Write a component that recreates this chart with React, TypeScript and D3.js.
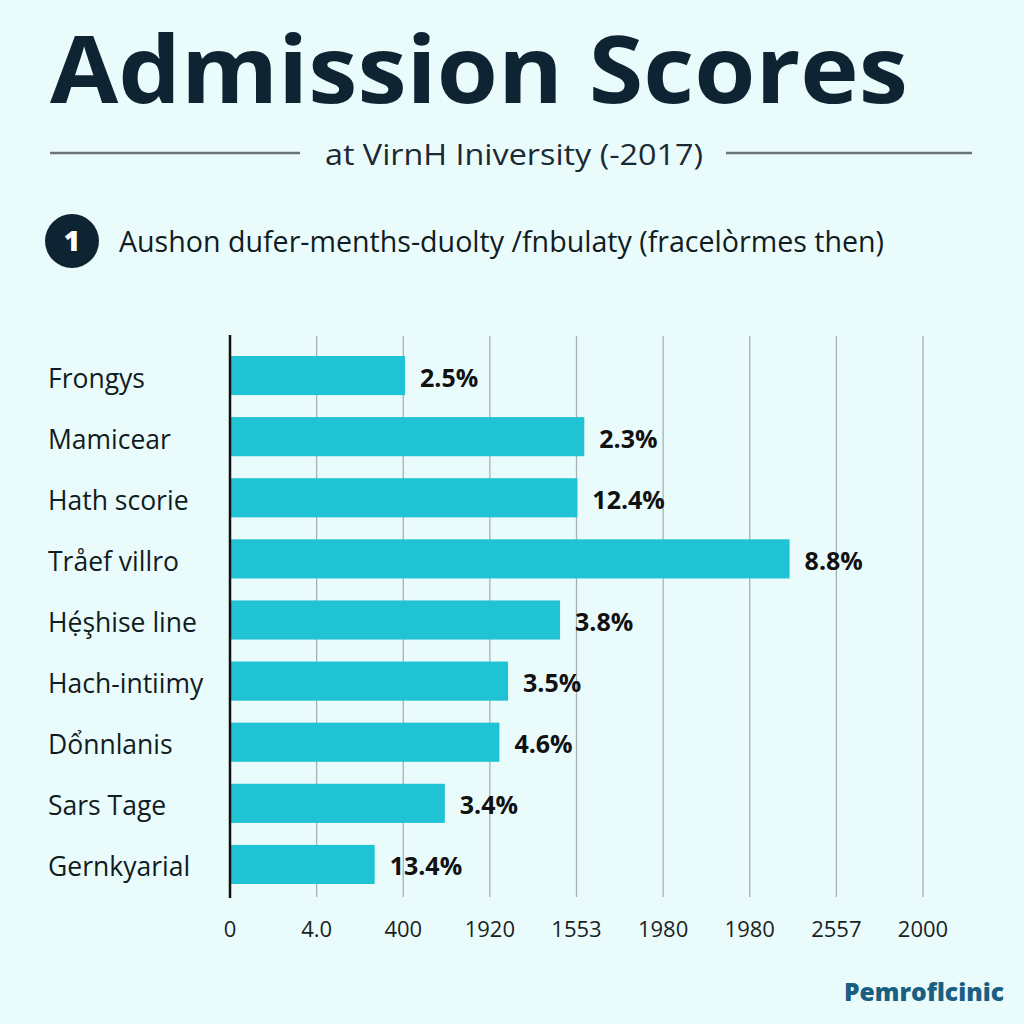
import React from "react";
import * as d3 from "d3";

const categories = [
  "Frongys",
  "Mamicear",
  "Hath scorie",
  "Tråef villro",
  "Hẹ́şhise line",
  "Hach-intiimy",
  "Dổnnlanis",
  "Sars Tage",
  "Gernkyarial",
];
const values = [2.02, 4.09, 4.01, 6.46, 3.81, 3.21, 3.11, 2.48, 1.67];
const valueLabels = ["2.5%", "2.3%", "12.4%", "8.8%", "3.8%", "3.5%", "4.6%", "3.4%", "13.4%"];
const tickValues = [0, 1, 2, 3, 4, 5, 6, 7, 8];
const tickLabels = ["0", "4.0", "400", "1920", "1553", "1980", "1980", "2557", "2000"];

const W = 1024;
const H = 1024;
const BG = "#eafbfb";
const BAR = "#1fc3d4";
const NAVY = "#0f2433";
const FONT = "'Open Sans', 'Noto Sans', sans-serif";

export default function App() {
  const x = d3.scaleLinear().domain([0, 8]).range([230, 923]);
  const y = d3
    .scaleBand<string>()
    .domain(categories)
    .range([345, 895])
    .paddingInner(0.36)
    .paddingOuter(0.18);

  return (
    <svg
      width={W}
      height={H}
      viewBox={`0 0 ${W} ${H}`}
      style={{ position: "absolute", left: 0, top: 0, display: "block" }}
    >
      <rect x={0} y={0} width={W} height={H} fill={BG} />

      {/* Title */}
      <text
        x={50}
        y={103}
        fontFamily={FONT}
        fontWeight={700}
        fontSize={94}
        fill={NAVY}
        textLength={858}
        lengthAdjust="spacingAndGlyphs"
      >
        Admission Scores
      </text>

      {/* Subtitle with rules */}
      <line x1={50} x2={300} y1={153} y2={153} stroke="#6b7478" strokeWidth={2.5} />
      <line x1={726} x2={972} y1={153} y2={153} stroke="#6b7478" strokeWidth={2.5} />
      <text
        x={325}
        y={165}
        fontFamily={FONT}
        fontWeight={400}
        fontSize={29}
        fill="#1a2a35"
        textLength={378}
        lengthAdjust="spacingAndGlyphs"
      >
        at VirnH Iniversity (-2017)
      </text>

      {/* Numbered note */}
      <circle cx={72} cy={241} r={27} fill={NAVY} />
      <text
        x={72}
        y={251}
        textAnchor="middle"
        fontFamily={FONT}
        fontWeight={800}
        fontSize={28}
        fill="#ffffff"
      >
        1
      </text>
      <text
        x={119}
        y={252}
        fontFamily={FONT}
        fontWeight={400}
        fontSize={29}
        fill="#111c22"
        textLength={765}
        lengthAdjust="spacingAndGlyphs"
      >
        Aushon dufer-menths-duolty /fnbulaty (fracelòrmes then)
      </text>

      {/* Gridlines */}
      {tickValues.slice(1).map((t) => (
        <line
          key={"g" + t}
          x1={x(t)}
          x2={x(t)}
          y1={336}
          y2={897}
          stroke="#a9b0b3"
          strokeWidth={1.3}
        />
      ))}

      {/* Bars */}
      {categories.map((c, i) => (
        <rect
          key={c}
          x={x(0)}
          y={y(c)}
          width={x(values[i]) - x(0)}
          height={y.bandwidth()}
          fill={BAR}
        />
      ))}

      {/* Axis line */}
      <line x1={230} x2={230} y1={335} y2={898} stroke="#111" strokeWidth={2.5} />

      {/* Category labels */}
      {categories.map((c) => (
        <text
          key={"l" + c}
          x={48}
          y={(y(c) as number) + y.bandwidth() / 2 + 12}
          fontFamily={FONT}
          fontSize={26.5}
          fill="#111c22"
        >
          {c}
        </text>
      ))}

      {/* Value labels */}
      {categories.map((c, i) => (
        <text
          key={"v" + c}
          x={x(values[i]) + 15}
          y={(y(c) as number) + y.bandwidth() / 2 + 11}
          fontFamily={FONT}
          fontWeight={700}
          fontSize={25}
          fill="#111"
        >
          {valueLabels[i]}
        </text>
      ))}

      {/* Tick labels */}
      {tickValues.map((t, i) => (
        <text
          key={"t" + i}
          x={x(t)}
          y={937}
          textAnchor="middle"
          fontFamily={FONT}
          fontSize={22}
          fill="#1a1f22"
        >
          {tickLabels[i]}
        </text>
      ))}

      {/* Footer brand */}
      <text
        x={1004}
        y={1001}
        textAnchor="end"
        fontFamily={FONT}
        fontWeight={800}
        fontSize={25}
        fill="#1a5f82"
        textLength={160}
        lengthAdjust="spacingAndGlyphs"
      >
        Pemroflcinic
      </text>
    </svg>
  );
}
